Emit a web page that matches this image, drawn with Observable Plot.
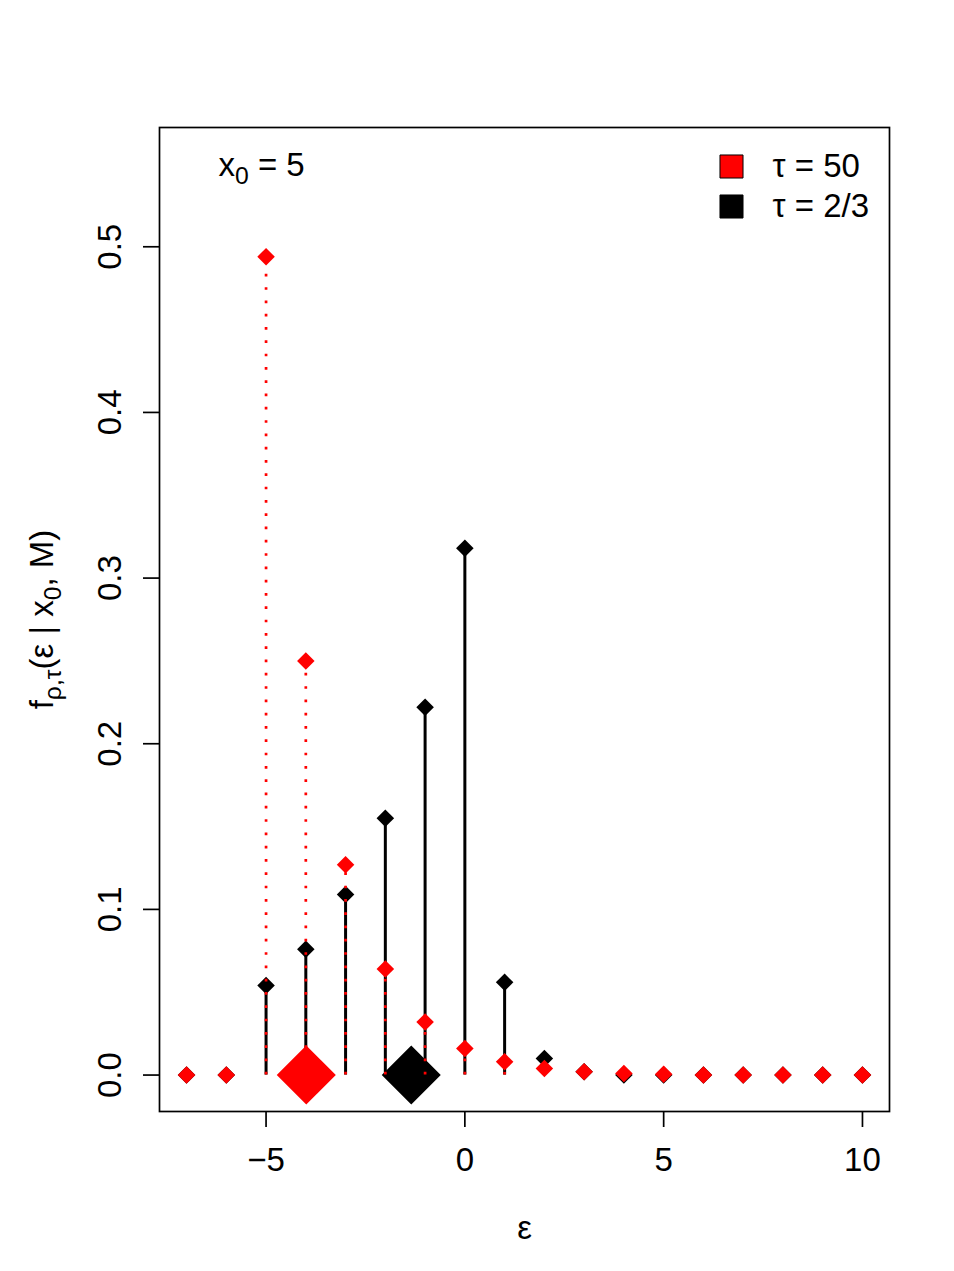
<!DOCTYPE html>
<html><head><meta charset="utf-8">
<script src="https://cdn.jsdelivr.net/npm/d3@7"></script>
<script src="https://cdn.jsdelivr.net/npm/@observablehq/plot@0.6"></script>
<style>body{margin:0;background:#fff;}</style>
</head><body><div id="chart"></div>
<script>
// ---- data ----
const eps = [-7,-6,-5,-4,-3,-2,-1,0,1,2,3,4,5,6,7,8,9,10];
const densTau50 = [0,0,0.494,0.25,0.127,0.064,0.032,0.016,0.008,0.004,0.002,0.001,0.0005,0,0,0,0,0];
const densTau23 = [0,0,0.054,0.076,0.109,0.155,0.222,0.318,0.056,0.010,0.002,0,0,0,0,0,0,0];
const xTicks = [-5,0,5,10];
const yTicks = [0,0.1,0.2,0.3,0.4,0.5];
const legendLabels = ["τ = 50","τ = 2/3"];
const legendColors = ["red","black"];
const xDomain = [-7.68, 10.68];
const yDomain = [-0.022, 0.572];

// ---- build tables ----
const red = eps.map((e,i)=>({e, p: densTau50[i]}));
const blk = eps.map((e,i)=>({e, p: densTau23[i]}));
const mean = rows => d3.sum(rows, r=>r.e*r.p)/d3.sum(rows, r=>r.p);
const redMean = [{e: mean(red), p: 0}];
const blkMean = [{e: mean(blk), p: 0}];

const FS = 33;
const font = "'Liberation Sans', Arial, Helvetica, sans-serif";

const chart = Plot.plot({
  width: 954, height: 1271,
  marginLeft: 159, marginRight: 65, marginTop: 127, marginBottom: 160,
  style: {fontFamily: font, fontSize: FS+"px", background: "white", color: "black", overflow: "visible"},
  x: {domain: xDomain},
  y: {domain: yDomain},
  marks: [
    Plot.frame({stroke: "black", strokeWidth: 1.7}),
    Plot.axisX({ticks: xTicks, tickSize: 16, tickPadding: 20, fontSize: FS, label: null, strokeWidth: 1.7}),
    Plot.axisY({ticks: yTicks, tickSize: 16, tickFormat: () => "", label: null, strokeWidth: 1.7}),
    Plot.text(yTicks, {y: d=>d, text: d=>d.toFixed(1), frameAnchor: "left", dx: -49, rotate: -90, textAnchor: "middle", lineAnchor: "middle", fontSize: FS}),
    // black (tau = 2/3)
    Plot.ruleX(blk, {x: "e", y1: 0, y2: "p", stroke: "black", strokeWidth: 3}),
    Plot.dot(blk, {x: "e", y: "p", symbol: "diamond2", r: 7.9, fill: "black", stroke: "none"}),
    Plot.dot(blkMean, {x: "e", y: "p", symbol: "diamond2", r: 26.6, fill: "black", stroke: "none"}),
    // red (tau = 50)
    Plot.ruleX(red.filter(d=>d.p>0), {x: "e", y1: 0, y2: "p", stroke: "red", strokeWidth: 2.7, strokeDasharray: "2.7,10.6"}),
    Plot.dot(red, {x: "e", y: "p", symbol: "diamond2", r: 7.9, fill: "red", stroke: "none"}),
    Plot.dot(redMean, {x: "e", y: "p", symbol: "diamond2", r: 26.6, fill: "red", stroke: "none"}),
    // legend
    ...legendColors.map((c,i)=>Plot.dot([c], {frameAnchor: "top-right", dx: -158, dy: 39+40*i, symbol: "square", r: 13, fill: c, stroke: "black", strokeWidth: 1})),
    ...legendLabels.map((t,i)=>Plot.text([t], {frameAnchor: "top-right", dx: -117, dy: 39+40*i, textAnchor: "start", lineAnchor: "middle", fontSize: FS})),
    // annotations
    Plot.text(["x0 = 5"], {frameAnchor: "top-left", dx: 59, dy: 38, textAnchor: "start", lineAnchor: "middle", fontSize: FS, className: "x0lab"}),
    Plot.text(["f(ε | x0, M)"], {frameAnchor: "left", dx: -117, rotate: -90, textAnchor: "middle", lineAnchor: "middle", fontSize: FS, className: "ylab"}),
    Plot.text(["ε"], {frameAnchor: "bottom", dy: 117, textAnchor: "middle", lineAnchor: "middle", fontSize: FS})
  ]
});
document.getElementById("chart").appendChild(chart);

// subscripts
function richText(sel, parts){
  const t = d3.select(chart).select(sel + " text");
  t.text("");
  let shifted = false;
  for (const [s, sub] of parts){
    const ts = t.append("tspan").text(s);
    if (sub && !shifted){ ts.attr("dy", "8px").attr("font-size", (FS*0.75)+"px"); shifted = true; }
    else if (!sub && shifted){ ts.attr("dy", "-8px"); shifted = false; }
    else if (sub) ts.attr("font-size", (FS*0.75)+"px");
  }
}
richText("g.ylab", [["f",false],["ρ,τ",true],["(ε | x",false],["0",true],[", M)",false]]);
richText("g.x0lab", [["x",false],["0",true],[" = 5",false]]);
</script>
</body></html>
